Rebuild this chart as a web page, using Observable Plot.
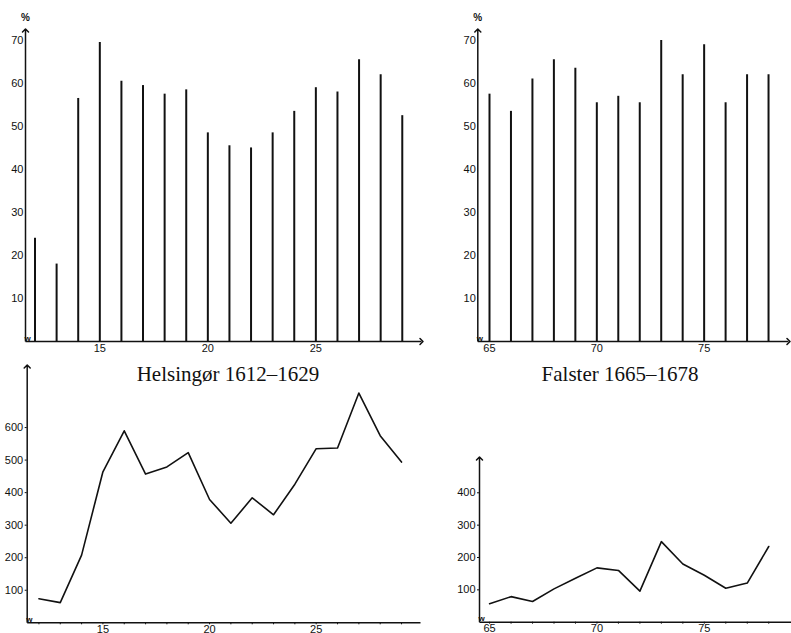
<!DOCTYPE html>
<html>
<head>
<meta charset="utf-8">
<script src="https://cdn.jsdelivr.net/npm/d3@7"></script>
<script src="https://cdn.jsdelivr.net/npm/@observablehq/plot@0.6"></script>
<style>
  html, body { margin: 0; padding: 0; background: #fff; }
  #wrap { position: relative; width: 791px; height: 633px; overflow: hidden; background: #fff; }
  .panel { position: absolute; }
  .title { position: absolute; width: 240px; text-align: center; font-family: "Liberation Serif", "DejaVu Serif", serif; font-size: 21px; line-height: 21px; color: #111; }
</style>
</head>
<body>
<div id="wrap"></div>
<script>
// ---- data ----
const helsingorYears = [1612,1613,1614,1615,1616,1617,1618,1619,1620,1621,1622,1623,1624,1625,1626,1627,1628,1629];
const helsingorPct   = [24,18,56.5,69.5,60.5,59.5,57.5,58.5,48.5,45.5,45,48.5,53.5,59,58,65.5,62,52.5];
const helsingorAbs   = [74,62,208,464,590,457,479,523,379,306,384,332,426,535,537,706,575,494];

const falsterYears = [1665,1666,1667,1668,1669,1670,1671,1672,1673,1674,1675,1676,1677,1678];
const falsterPct   = [57.5,53.5,61,65.5,63.5,55.5,57,55.5,70,62,69,55.5,62,62];
const falsterAbs   = [57,79,64,103,136,168,160,96,249,180,145,105,121,234];

const pctTicks = [10,20,30,40,50,60,70];
const helsingorAbsTicks = [100,200,300,400,500,600];
const falsterAbsTicks = [100,200,300,400];
const helsingorYearLabels = [1615,1620,1625];
const falsterYearLabels = [1665,1670,1675];

const titles = ["Helsingør 1612–1629", "Falster 1665–1678"];

// ---- helpers ----
const ink = "#111";
function rows(years, values) { return years.map((year, i) => ({year, value: values[i]})); }

function panel(o) {
  const data = rows(o.years, o.values);
  const [x0, x1] = o.xDomain;
  const [y0, y1] = o.yDomain;
  const marks = [
    Plot.link([0], {x1: () => x0, x2: () => x0, y1: () => y0, y2: () => y1, stroke: ink, strokeWidth: 1.5, markerEnd: "arrow"}),
    Plot.link([0], {x1: () => x0, x2: () => x1, y1: () => y0, y2: () => y0, stroke: ink, strokeWidth: 1.5, markerEnd: o.xArrow ? "arrow" : "none"}),
    Plot.text([0], {x: () => x0, y: () => y0, text: () => "w", textAnchor: "start", lineAnchor: "bottom", dx: -1, dy: -1, fontSize: 8, fontWeight: "bold", fill: ink})
  ];
  if (o.kind === "spike") {
    marks.push(Plot.ruleX(data, {x: "year", y1: () => 0, y2: "value", stroke: ink, strokeWidth: 2}));
    marks.push(Plot.text([0], {x: () => x0, y: () => y1, text: () => "%", dy: -13, fontSize: 10, fontWeight: "bold", fill: ink}));
  } else {
    marks.push(Plot.line(data, {x: "year", y: "value", stroke: ink, strokeWidth: 1.6}));
  }
  return Plot.plot({
    width: o.width, height: o.height,
    marginLeft: o.ml, marginRight: o.mr, marginTop: o.mt, marginBottom: o.mb,
    style: {fontFamily: "Liberation Sans, DejaVu Sans, sans-serif", fontSize: "11px", color: ink, background: "transparent", overflow: "visible"},
    x: {domain: o.xDomain, ticks: o.years, tickFormat: d => o.xLabels.includes(d) ? String(d).slice(2) : "", tickSize: o.xTickSize, tickPadding: o.xPad, label: null},
    y: {domain: o.yDomain, ticks: o.yTicks, tickFormat: d => String(d), tickSize: o.yTickSize, tickPadding: 2, label: null},
    marks
  });
}

const wrap = document.getElementById("wrap");
function place(node, left, top) {
  node.classList.add("panel");
  node.style.left = left + "px";
  node.style.top = top + "px";
  wrap.appendChild(node);
}

place(panel({kind: "spike", years: helsingorYears, values: helsingorPct, xLabels: helsingorYearLabels, yTicks: pctTicks,
  width: 430, height: 360, ml: 25, mr: 9, mt: 30, mb: 19, xPad: 3,
  xDomain: [1611.56, 1629.89], yDomain: [0, 72.3], xArrow: true, xTickSize: 0, yTickSize: 0}), 0, 0);

place(panel({kind: "spike", years: falsterYears, values: falsterPct, xLabels: falsterYearLabels, yTicks: pctTicks,
  width: 361, height: 360, ml: 47.3, mr: 3, mt: 30, mb: 19, xPad: 3,
  xDomain: [1664.455, 1678.93], yDomain: [0, 72.3], xArrow: true, xTickSize: 0, yTickSize: 0}), 430, 0);

place(panel({kind: "line", years: helsingorYears, values: helsingorAbs, xLabels: helsingorYearLabels, yTicks: helsingorAbsTicks,
  width: 430, height: 273, ml: 26.7, mr: 10, mt: 6, mb: 10.7, xPad: 0,
  xDomain: [1611.45, 1629.89], yDomain: [0, 787.6], xArrow: false, xTickSize: 2, yTickSize: 2}), 0, 360);

place(panel({kind: "line", years: falsterYears, values: falsterAbs, xLabels: falsterYearLabels, yTicks: falsterAbsTicks,
  width: 361, height: 273, ml: 49, mr: 0, mt: 98, mb: 11.3, xPad: 0,
  xDomain: [1664.53, 1679.06], yDomain: [0, 506], xArrow: false, xTickSize: 2, yTickSize: 2}), 430, 360);

const centers = [228, 620];
titles.forEach((t, i) => {
  const d = document.createElement("div");
  d.className = "title";
  d.textContent = t;
  d.style.left = (centers[i] - 120) + "px";
  d.style.top = "364px";
  wrap.appendChild(d);
});
</script>
</body>
</html>
